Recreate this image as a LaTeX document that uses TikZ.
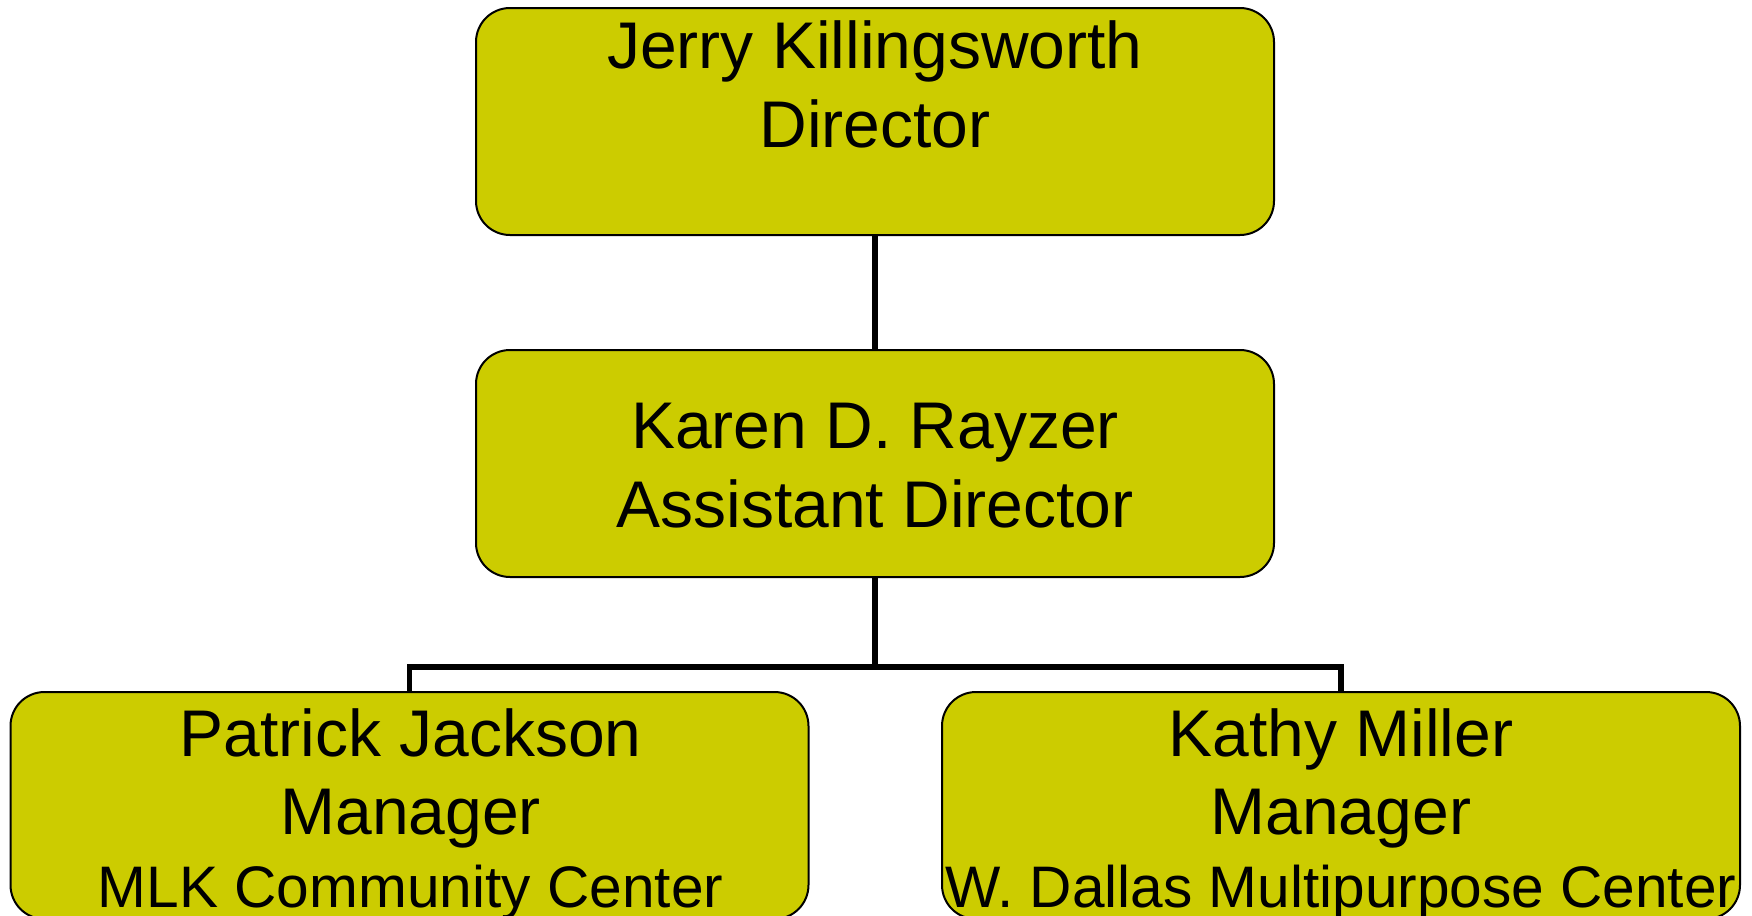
\documentclass[tikz,border=0pt]{standalone}
\usepackage{fontspec}
\setmainfont{Liberation Sans}
\usepackage{xcolor}
\usepackage{tikz}
\usetikzlibrary{positioning}
\definecolor{boxfill}{RGB}{204,204,0}
\tikzset{
    person/.style={draw, line width=1pt, fill=boxfill, rounded corners=17pt,
        minimum width=399pt, minimum height=113.5pt, inner sep=0pt},
    title/.style={align=center, anchor=base, inner sep=0pt,
        font=\fontsize{33}{39.3}\selectfont},
    link/.style={line width=2.8pt}
}

\begin{document}
\begin{tikzpicture}
    \useasboundingbox (0,0) rectangle (876pt,-458pt);
    % boxes
    \node[person] (dir) at (437.5pt, -60.75pt) {};
    \node[person] (asst) at (437.5pt, -231.75pt) {};
    \node[person] (mlk) at (204.75pt, -402.75pt) {};
    \node[person] (wd) at (670.5pt, -402.75pt) {};
    % texts (base = last line)
    \node[title] (dirname) at (437.5pt, -73.7pt) {Jerry Killingsworth\\Director};
    \node[title] (asstname) at (437.5pt, -263.7pt) {Karen D. Rayzer\\Assistant Director};
    \node[title] (mlkname) at (205.3pt, -453.6pt)
        {Patrick Jackson\\Manager\\[-3pt]{\fontsize{29.3}{35}\selectfont MLK Community Center}};
    \node[title] (wdname) at (670.4pt, -453.6pt)
        {Kathy Miller\\Manager\\[-3pt]{\fontsize{29.3}{35}\selectfont W. Dallas Multipurpose Center}};
    % lines
    \coordinate (bar) at (437.5pt, -333.5pt);
    \draw[link] (dir) -- (asst);
    \draw[link] (asst) -- (bar) -| (mlk);
    \draw[link] (bar) -| (wd);
\end{tikzpicture}
\end{document}
